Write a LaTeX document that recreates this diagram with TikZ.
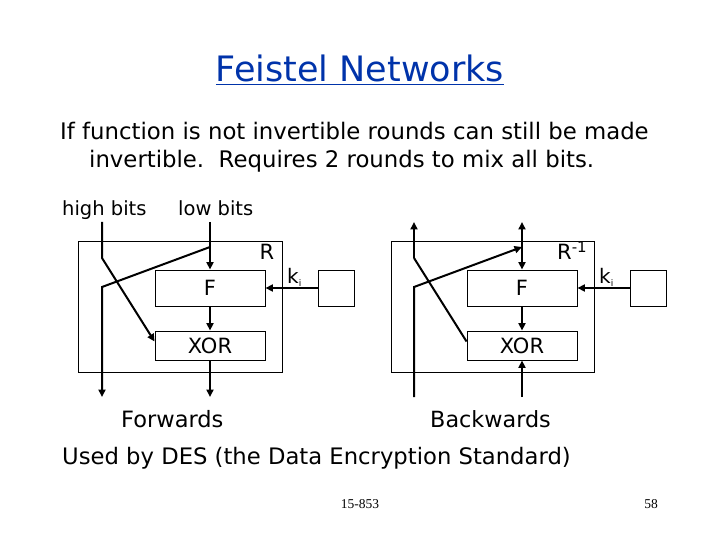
\documentclass[tikz,border=0pt]{standalone}
\usepackage{fontspec}
\setmainfont{DejaVu Sans}
\newfontfamily\numfont{Liberation Serif}
\usetikzlibrary{arrows.meta}
\definecolor{titleblue}{RGB}{0,51,170}
\begin{document}
\begin{tikzpicture}[x=1pt,y=-1pt,
  thin box/.style={draw, line width=0.9pt, inner sep=0pt},
  wire/.style={line width=2pt},
  arr/.style={wire, -{Triangle[length=7.5pt,width=7pt]}},
  lbl/.style={inner sep=0pt, anchor=base, font=\fontsize{21}{25}\selectfont},
  body/.style={inner sep=0pt, anchor=base west, font=\fontsize{22.8}{27}\selectfont}]
\useasboundingbox (0,0) rectangle (720,540);
% title and text
\node[inner sep=0pt, anchor=base, text=titleblue, font=\fontsize{35}{40}\selectfont] (title) at (360,82) {\underline{Feistel Networks}};
\node[body] (l1) at (60,140) {If function is not invertible rounds can still be made};
\node[body] (l2) at (89,168) {invertible.\ \ Requires 2 rounds to mix all bits.};
\node[body, font=\fontsize{19.5}{22}\selectfont] (hb) at (62,215) {high bits};
\node[body, font=\fontsize{19.5}{22}\selectfont] (lb) at (178,215) {low bits};
\node[body, font=\fontsize{22.5}{27}\selectfont] (fw) at (121,427) {Forwards};
\node[body, font=\fontsize{22.3}{27}\selectfont] (bw) at (430,427) {Backwards};
\node[body, font=\fontsize{22.7}{27}\selectfont] (des) at (62,464) {Used by DES (the Data Encryption Standard)};
\node[inner sep=0pt, anchor=base, font=\numfont\fontsize{13.5}{15}\selectfont] (pg) at (360,508) {15-853};
\node[inner sep=0pt, anchor=base, font=\numfont\fontsize{13.5}{15}\selectfont] (num) at (651,508) {58};
% left round
\node[thin box, minimum width=204pt, minimum height=131pt] (RL) at (180,306.5) {};
\node[thin box, minimum width=110pt, minimum height=36pt, font=\fontsize{21}{25}\selectfont] (FL) at (210,288) {F};
\node[thin box, minimum width=110pt, minimum height=29pt, font=\fontsize{21}{25}\selectfont] (XL) at (210,345.5) {XOR};
\node[thin box, minimum width=36pt, minimum height=36pt] (KL) at (336,288) {};
\node[lbl] (Rlab) at (267,259) {R};
\node[lbl, anchor=base west, font=\fontsize{20}{24}\selectfont] (kLlab) at (287,283) {k\raisebox{-3pt}{\fontsize{9}{11}\selectfont i}};
\coordinate (hLt) at (102,222);
\coordinate (hLb) at (102,258);
\coordinate (xLin) at ([yshift=4pt]XL.west);
\coordinate (lLt) at (210,222);
\coordinate (lLs) at (210,247);
\coordinate (lLb) at (102,287);
\coordinate (oLl) at (102,397);
\coordinate (oLr) at (210,397);
\draw[arr] (hLt) -- (hLb) -- (xLin);
\draw[arr] (lLt) -- (FL.north);
\draw[arr] (lLs) -- (lLb) -- (oLl);
\draw[arr] (FL.south) -- (XL.north);
\draw[arr] (XL.south) -- (oLr);
\draw[arr] (KL.west) -- (FL.east);
% right round
\node[thin box, minimum width=203pt, minimum height=131pt] (RR) at (492.5,306.5) {};
\node[thin box, minimum width=110pt, minimum height=36pt, font=\fontsize{21}{25}\selectfont] (FR) at (522,288) {F};
\node[thin box, minimum width=110pt, minimum height=29pt, font=\fontsize{21}{25}\selectfont] (XR) at (522,345.5) {XOR};
\node[thin box, minimum width=36pt, minimum height=36pt] (KR) at (648,288) {};
\node[lbl, anchor=base west] (Rrlab) at (557,259) {R\raisebox{7pt}{\fontsize{15}{18}\selectfont -1}};
\node[lbl, anchor=base west, font=\fontsize{20}{24}\selectfont] (kRlab) at (599,283) {k\raisebox{-3pt}{\fontsize{9}{11}\selectfont i}};
\coordinate (hRt) at (414,222);
\coordinate (hRb) at (414,258);
\coordinate (xRin) at ([yshift=4pt]XR.west);
\coordinate (lRt) at (522,222);
\coordinate (lRs) at (522,247);
\coordinate (lRb) at (414,287);
\coordinate (iRl) at (414,397);
\coordinate (iRr) at (522,397);
\draw[arr] (hRb) -- (hRt);
\draw[wire] (hRb) -- (xRin);
\draw[arr] (iRl) -- (lRb) -- (lRs);
\draw[arr] (lRs) -- (lRt);
\draw[arr] (lRs) -- (FR.north);
\draw[arr] (FR.south) -- (XR.north);
\draw[arr] (iRr) -- (XR.south);
\draw[arr] (KR.west) -- (FR.east);
\end{tikzpicture}
\end{document}
